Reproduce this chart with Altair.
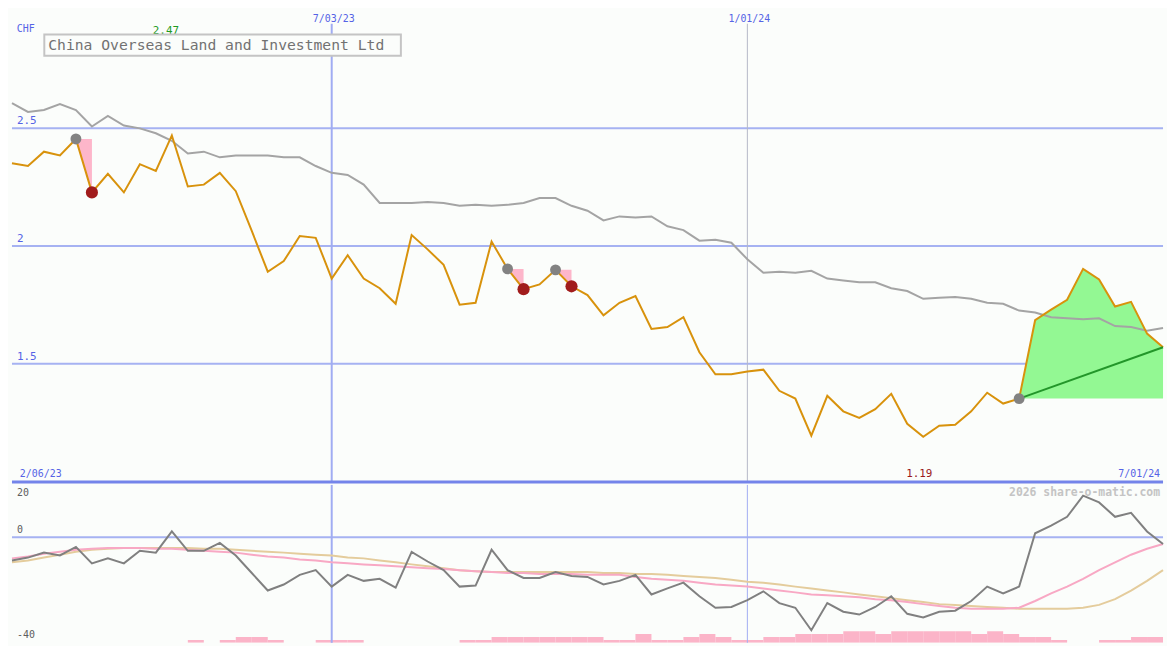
import altair as alt
import pandas as pd

# ---------------- data ----------------
dates = pd.date_range("2023-02-13", periods=73, freq="7D")

price = [2.352, 2.340, 2.401, 2.385, 2.455, 2.228, 2.307, 2.228, 2.348, 2.319,
         2.470, 2.253, 2.261, 2.311, 2.233, 2.064, 1.891, 1.936, 2.043, 2.035,
         1.862, 1.961, 1.862, 1.821, 1.755, 2.047, 1.986, 1.920, 1.751, 1.759,
         2.019, 1.903, 1.817, 1.837, 1.899, 1.829, 1.792, 1.706, 1.759, 1.788,
         1.648, 1.656, 1.698, 1.549, 1.455, 1.455, 1.467, 1.475, 1.385, 1.352,
         1.195, 1.364, 1.298, 1.270, 1.307, 1.372, 1.245, 1.190, 1.237, 1.241,
         1.298, 1.377, 1.331, 1.352, 1.685, 1.730, 1.772, 1.903, 1.858, 1.743,
         1.763, 1.628, 1.570]

avg = [2.607, 2.570, 2.578, 2.603, 2.578, 2.508, 2.553, 2.512, 2.500, 2.479,
       2.447, 2.393, 2.401, 2.377, 2.385, 2.385, 2.385, 2.377, 2.377, 2.340,
       2.311, 2.302, 2.261, 2.183, 2.183, 2.183, 2.187, 2.183, 2.171, 2.175,
       2.171, 2.175, 2.183, 2.204, 2.204, 2.171, 2.150, 2.109, 2.126, 2.121,
       2.126, 2.084, 2.068, 2.023, 2.027, 2.014, 1.944, 1.887, 1.891, 1.887,
       1.895, 1.862, 1.854, 1.846, 1.846, 1.821, 1.809, 1.776, 1.780, 1.784,
       1.776, 1.759, 1.755, 1.726, 1.718, 1.698, 1.693, 1.689, 1.693, 1.660,
       1.656, 1.640, 1.652]

momentum = [-8.9, -7.8, -5.9, -7.0, -3.7, -10.0, -8.1, -10.0, -5.2, -5.9,
            2.2, -5.2, -5.2, -2.2, -7.0, -13.7, -20.4, -18.1, -14.4, -12.6,
            -18.9, -14.4, -16.7, -15.9, -19.3, -5.6, -9.3, -12.6, -18.9, -18.5,
            -4.8, -12.6, -15.6, -15.6, -13.3, -14.8, -15.2, -18.1, -16.7, -14.4,
            -21.9, -19.6, -17.4, -22.6, -27.0, -26.7, -24.1, -20.7, -25.2, -27.0,
            -35.6, -25.2, -28.5, -29.6, -26.7, -22.6, -29.3, -30.7, -28.5, -28.1,
            -24.4, -18.9, -21.5, -18.9, 1.5, 4.4, 7.8, 15.9, 13.3, 7.8,
            9.3, 2.2, -2.6]

mom_fast = [-8.1, -7.4, -6.3, -5.6, -4.8, -4.4, -4.1, -4.1, -4.1, -4.4,
            -4.4, -4.8, -5.2, -5.6, -5.9, -6.7, -7.4, -7.8, -8.5, -8.9,
            -9.6, -10.0, -10.4, -10.7, -11.1, -11.5, -11.9, -12.2, -12.6, -13.0,
            -13.3, -13.7, -13.7, -14.1, -14.1, -14.1, -14.4, -14.4, -14.4, -15.2,
            -15.9, -16.3, -16.7, -17.4, -18.1, -18.5, -18.9, -19.6, -20.4, -21.1,
            -21.9, -22.2, -22.6, -23.0, -23.7, -24.1, -24.8, -25.6, -26.3, -27.0,
            -27.4, -27.4, -27.4, -27.0, -24.4, -21.5, -18.9, -15.9, -12.6, -9.6,
            -6.7, -4.4, -2.6]

mom_slow = [-9.6, -8.9, -7.8, -6.7, -5.6, -4.8, -4.4, -4.1, -4.1, -4.1,
            -4.1, -4.1, -4.4, -4.4, -4.8, -5.2, -5.6, -5.9, -6.3, -6.7,
            -7.0, -7.8, -8.1, -8.9, -9.6, -10.4, -11.1, -11.9, -12.6, -13.0,
            -13.3, -13.3, -13.3, -13.3, -13.3, -13.3, -13.3, -13.7, -13.7, -14.1,
            -14.1, -14.4, -14.8, -15.2, -15.6, -16.3, -17.0, -17.4, -18.1, -18.9,
            -19.6, -20.4, -21.1, -21.9, -22.6, -23.3, -24.1, -24.8, -25.6, -25.9,
            -26.3, -26.7, -27.0, -27.4, -27.4, -27.4, -27.4, -27.0, -25.9, -23.7,
            -20.4, -16.7, -12.6]

volume = [0, 0, 0, 0, 0, 0, 0, 0, 0, 0,
          0, 1, 0, 1, 2, 2, 1, 0, 0, 1,
          1, 1, 0, 0, 0, 0, 0, 0, 1, 1,
          2, 2, 2, 2, 2, 2, 2, 1, 1, 3,
          1, 1, 2, 3, 2, 1, 1, 2, 2, 3,
          3, 3, 4, 4, 3, 4, 4, 4, 4, 4,
          3, 4, 3, 2, 2, 1, 0, 0, 1, 1,
          2, 2, 2]

drop_pairs = [(4, 5), (31, 32), (34, 35)]
rise_pair = (63, 72)
grid_levels = [2.5, 2.0, 1.5]
grid_labels = ["2.5", "2", "1.5"]
date_lines = ["2023-07-03", "2024-01-01"]
date_line_labels = ["7/03/23", "1/01/24"]
title = "China Overseas Land and Investment Ltd"

# ---------------- frames ----------------
df = pd.DataFrame({"date": dates, "next": dates + pd.Timedelta(days=7),
                   "price": price, "avg": avg,
                   "mom": momentum, "fast": mom_fast, "slow": mom_slow,
                   "vol": volume})
vol_df = df[df["vol"] > 0]

drop_rows = []
for k, (a, b) in enumerate(drop_pairs):
    for i in range(a, b + 1):
        drop_rows.append({"seg": k, "date": dates[i], "price": price[i], "base": price[a]})
drop_df = pd.DataFrame(drop_rows)
peaks_df = pd.DataFrame({"date": [dates[a] for a, _ in drop_pairs] + [dates[rise_pair[0]]],
                         "price": [price[a] for a, _ in drop_pairs] + [price[rise_pair[0]]]})
lows_df = pd.DataFrame({"date": [dates[b] for _, b in drop_pairs],
                        "price": [price[b] for _, b in drop_pairs]})
ra, rb = rise_pair
rise_df = pd.DataFrame({"date": dates[ra:rb + 1], "price": price[ra:rb + 1],
                        "base": [price[ra]] * (rb - ra + 1)})
trend_df = pd.DataFrame({"date": [dates[ra], dates[rb]], "price": [price[ra], price[rb]]})

# ---------------- geometry ----------------
W = 1159
H1 = 475
H2 = 159
SX = W / 1175
SY = (H1 + H2) / 650
FONT = "DejaVu Sans Mono"
BLUE_TXT = "#5563E6"
BG = "#FBFDFB"

xs = alt.Scale(domain=[alt.DateTime(year=2023, month=2, date=13),
                       alt.DateTime(year=2024, month=7, date=1)], nice=False)
X = alt.X("date:T", scale=xs, axis=None)
ys = alt.Scale(domain=[0.998, 3.002], nice=False, zero=False)
yl = alt.Scale(domain=[-40.4, 20], nice=False, zero=False)

# ---------------- upper panel ----------------
grid = alt.Chart(pd.DataFrame({"v": grid_levels, "t": grid_labels})).mark_rule(
    color="#A6B2F2", strokeWidth=2).encode(y=alt.Y("v:Q", scale=ys, axis=None))
grid_txt = alt.Chart(pd.DataFrame({"v": grid_levels, "t": grid_labels})).mark_text(
    align="left", baseline="bottom", dy=-2, font=FONT, fontSize=11, color=BLUE_TXT
).encode(x=alt.value(5), y=alt.Y("v:Q", scale=ys, axis=None), text="t:N")

sep = alt.Chart(pd.DataFrame({"v": [0.998]})).mark_rule(
    color="#7484EA", strokeWidth=3).encode(y=alt.Y("v:Q", scale=ys, axis=None))

vl_df = pd.DataFrame({"date": date_lines, "t": date_line_labels})
vline1 = alt.Chart(vl_df.iloc[[0]]).mark_rule(color="#A0ACF2", strokeWidth=2).encode(
    x=X, y=alt.value(14 * SY), y2=alt.value(H1))
vline2 = alt.Chart(vl_df.iloc[[1]]).mark_rule(color="#B4B8C8", strokeWidth=1).encode(
    x=X, y=alt.value(14 * SY), y2=alt.value(H1))
vtxt = alt.Chart(vl_df).mark_text(align="center", baseline="middle", font=FONT,
                                  fontSize=10, color=BLUE_TXT, dx=2).encode(
    x=X, y=alt.value(9 * SY), text="t:N")

rise_area = alt.Chart(rise_df).mark_area(color="#93F893", opacity=1).encode(
    x=X, y=alt.Y("price:Q", scale=ys, axis=None), y2="base:Q")
drop_area = alt.Chart(drop_df).mark_area(color="#FDB6CA", opacity=1).encode(
    x=X, y=alt.Y("price:Q", scale=ys, axis=None), y2="base:Q", detail="seg:N")

avg_line = alt.Chart(df).mark_line(color="#A4A4A4", strokeWidth=2).encode(
    x=X, y=alt.Y("avg:Q", scale=ys, axis=None))
price_line = alt.Chart(df).mark_line(color="#D8920C", strokeWidth=2).encode(
    x=X, y=alt.Y("price:Q", scale=ys, axis=None))
trend = alt.Chart(trend_df).mark_line(color="#23962A", strokeWidth=2).encode(
    x=X, y=alt.Y("price:Q", scale=ys, axis=None))
peaks = alt.Chart(peaks_df).mark_circle(color="#828282", size=120, opacity=1).encode(
    x=X, y=alt.Y("price:Q", scale=ys, axis=None))
lows = alt.Chart(lows_df).mark_circle(color="#A11C1C", size=150, opacity=1).encode(
    x=X, y=alt.Y("price:Q", scale=ys, axis=None))

imax = price.index(max(price))
imin = price.index(min(price))
hi_df = pd.DataFrame({"date": [dates[imax]], "t": [f"{max(price):.2f}"]})
lo_df = pd.DataFrame({"date": [dates[imin]], "t": [f"{min(price):.2f}"]})
hi_txt = alt.Chart(hi_df).mark_text(font=FONT, fontSize=11, color="#1E9A1E", dx=-6,
                                    baseline="middle").encode(
    x=X, y=alt.value(21 * SY), text="t:N")
lo_txt = alt.Chart(lo_df).mark_text(font=FONT, fontSize=11, color="#9A1A1A", dx=-4,
                                    baseline="middle").encode(
    x=X, y=alt.value(479 * SY), text="t:N")

chf = alt.Chart(pd.DataFrame({"t": ["CHF"]})).mark_text(
    font=FONT, fontSize=10, color=BLUE_TXT, align="left", baseline="middle").encode(
    x=alt.value(5 * SX), y=alt.value(19 * SY), text="t:N")
left_date = alt.Chart(pd.DataFrame({"t": ["2/06/23"]})).mark_text(
    font=FONT, fontSize=10, color=BLUE_TXT, align="left", baseline="middle").encode(
    x=alt.value(8 * SX), y=alt.value(479 * SY), text="t:N")
right_date = alt.Chart(pd.DataFrame({"t": ["7/01/24"]})).mark_text(
    font=FONT, fontSize=10, color=BLUE_TXT, align="right", baseline="middle").encode(
    x=alt.value(1172 * SX), y=alt.value(479 * SY), text="t:N")

title_box = alt.Chart(pd.DataFrame({"t": [title]})).mark_rect(
    fill=BG, stroke="#C4C4C4", strokeWidth=2).encode(
    x=alt.value(33 * SX), x2=alt.value(397 * SX), y=alt.value(25 * SY), y2=alt.value(47 * SY))
title_txt = alt.Chart(pd.DataFrame({"t": [title]})).mark_text(
    font=FONT, fontSize=14.8, color="#727272", align="left", baseline="middle").encode(
    x=alt.value(37 * SX), y=alt.value(36.5 * SY), text="t:N")

upper = alt.layer(
    grid, vline1, vline2, rise_area, drop_area, avg_line, price_line, trend,
    peaks, lows, grid_txt, vtxt, hi_txt, lo_txt, chf, left_date, right_date,
    title_box, title_txt, sep
).properties(width=W, height=H1)

# ---------------- lower panel ----------------
zero = alt.Chart(pd.DataFrame({"v": [0]})).mark_rule(color="#A6B2F2", strokeWidth=2).encode(
    y=alt.Y("v:Q", scale=yl, axis=None))
lv1 = alt.Chart(vl_df.iloc[[0]]).mark_rule(color="#A0ACF2", strokeWidth=2).encode(x=X)
lv2 = alt.Chart(vl_df.iloc[[1]]).mark_rule(color="#A0ACF2", strokeWidth=1).encode(x=X)
vol_bars = alt.Chart(vol_df).mark_rect(color="#FBB4C8", opacity=1, clip=True).encode(
    x=X, x2="next:T",
    y=alt.Y("vol:Q", scale=alt.Scale(domain=[0, 163 / 3], nice=False), axis=None),
    y2=alt.datum(0))
slow_line = alt.Chart(df).mark_line(color="#E4CC9C", strokeWidth=2).encode(
    x=X, y=alt.Y("slow:Q", scale=yl, axis=None))
fast_line = alt.Chart(df).mark_line(color="#F8A8C4", strokeWidth=2).encode(
    x=X, y=alt.Y("fast:Q", scale=yl, axis=None))
mom_line = alt.Chart(df).mark_line(color="#808080", strokeWidth=2).encode(
    x=X, y=alt.Y("mom:Q", scale=yl, axis=None))
lab_top = alt.Chart(pd.DataFrame({"v": [20], "t": ["20"]})).mark_text(
    font=FONT, fontSize=10, color="#5E5E5E", align="left", baseline="middle", dy=8).encode(
    x=alt.value(5), y=alt.Y("v:Q", scale=yl, axis=None), text="t:N")
lab_rest = alt.Chart(pd.DataFrame({"v": [0, -40], "t": ["0", "-40"]})).mark_text(
    font=FONT, fontSize=10, color="#5E5E5E", align="left", baseline="middle", dy=-7).encode(
    x=alt.value(5), y=alt.Y("v:Q", scale=yl, axis=None), text="t:N")
credit = alt.Chart(pd.DataFrame({"t": ["2026 share-o-matic.com"]})).mark_text(
    font=FONT, fontSize=11.5, color="#C4C4C4", align="right", baseline="middle",
    fontWeight="bold").encode(x=alt.value(1172 * SX), y=alt.value(8 * SY), text="t:N")

lower = alt.layer(
    vol_bars, zero, lv1, lv2, slow_line, fast_line, mom_line, lab_top, lab_rest, credit
).resolve_scale(y="independent").properties(width=W, height=H2)

chart = alt.vconcat(upper, lower, spacing=0).properties(
    padding=0, background=BG
).configure_view(stroke=None)

chart.save("out.html", embed_options={"renderer": "svg", "actions": False})
